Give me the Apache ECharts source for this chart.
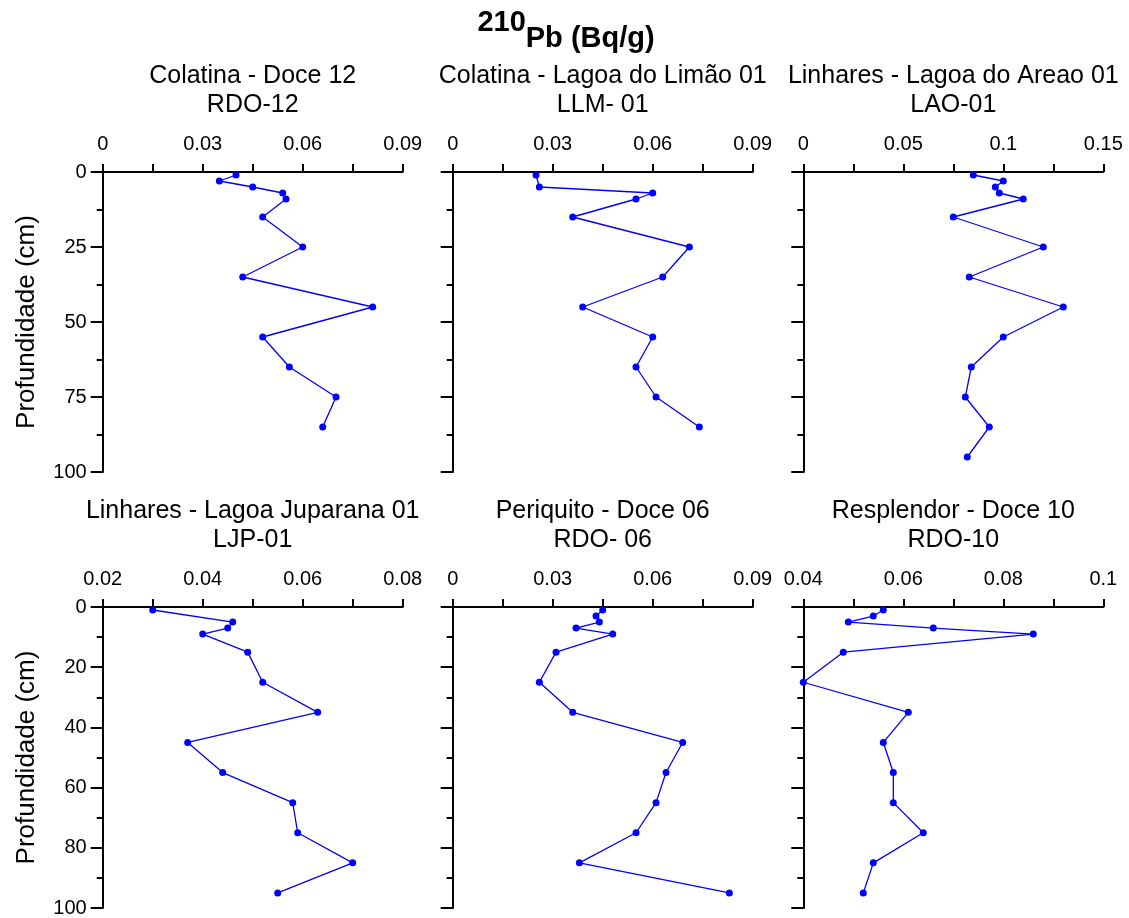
<!DOCTYPE html>
<html>
<head>
<meta charset="utf-8">
<title>210Pb perfis</title>
<script src="https://cdn.jsdelivr.net/npm/echarts@6/dist/echarts.min.js"></script>
<style>
  html, body { margin: 0; padding: 0; background: #fff; }
  #chart { width: 1129px; height: 918px; }
</style>
</head>
<body>
<div id="chart"></div>
<script>
// profundidades (cm)
var depthRDO12 = [1, 3, 5, 7, 9, 15, 25, 35, 45, 55, 65, 75, 85];
var depthLLM01 = [1, 5, 7, 9, 15, 25, 35, 45, 55, 65, 75, 85];
var depthLAO01 = [1, 3, 5, 7, 9, 15, 25, 35, 45, 55, 65, 75, 85, 95];
var depthLJP01 = [1, 5, 7, 9, 15, 25, 35, 45, 55, 65, 75, 85, 95];
var depthRDO06 = [1, 3, 5, 7, 9, 15, 25, 35, 45, 55, 65, 75, 85, 95];
var depthRDO10 = [1, 3, 5, 7, 9, 15, 25, 35, 45, 55, 65, 75, 85, 95];

// 210Pb (Bq/g)
var pbRDO12 = [0.040, 0.035, 0.045, 0.054, 0.055, 0.048, 0.060, 0.042, 0.081, 0.048, 0.056, 0.070, 0.066];
var pbLLM01 = [0.025, 0.026, 0.060, 0.055, 0.036, 0.071, 0.063, 0.039, 0.060, 0.055, 0.061, 0.074];
var pbLAO01 = [0.085, 0.100, 0.096, 0.098, 0.110, 0.075, 0.120, 0.083, 0.130, 0.100, 0.084, 0.081, 0.093, 0.082];
var pbLJP01 = [0.030, 0.046, 0.045, 0.040, 0.049, 0.052, 0.063, 0.037, 0.044, 0.058, 0.059, 0.070, 0.055];
var pbRDO06 = [0.045, 0.043, 0.044, 0.037, 0.048, 0.031, 0.026, 0.036, 0.069, 0.064, 0.061, 0.055, 0.038, 0.083];
var pbRDO10 = [0.056, 0.054, 0.049, 0.066, 0.086, 0.048, 0.040, 0.061, 0.056, 0.058, 0.058, 0.064, 0.054, 0.052];

var titles = [
    'Colatina - Doce 12\nRDO-12',
    'Colatina - Lagoa do Limão 01\nLLM- 01',
    'Linhares - Lagoa do Areao 01\nLAO-01',
    'Linhares - Lagoa Juparana 01\nLJP-01',
    'Periquito - Doce 06\nRDO- 06',
    'Resplendor - Doce 10\nRDO-10'
];
var xMin = [0, 0, 0, 0.02, 0, 0.04];
var xMax = [0.09, 0.09, 0.15, 0.08, 0.09, 0.1];
var xStep = [0.03, 0.03, 0.05, 0.02, 0.03, 0.02];
var yStep = [25, 25, 25, 20, 20, 20];

var depths = [depthRDO12, depthLLM01, depthLAO01, depthLJP01, depthRDO06, depthRDO10];
var values = [pbRDO12, pbLLM01, pbLAO01, pbLJP01, pbRDO06, pbRDO10];

var FONT = '"Liberation Sans", Arial, sans-serif';
var lefts = [102.7, 452.7, 803.3];
var tops = [172, 607];
var heights = [300, 301];

var grid = [], xAxis = [], yAxis = [], series = [], graphic = [];

for (var i = 0; i < 6; i++) {
    var col = i % 3, row = Math.floor(i / 3);
    grid.push({ left: lefts[col], top: tops[row], width: 300, height: heights[row] });

    xAxis.push({
        gridIndex: i, type: 'value', position: 'top',
        min: xMin[i], max: xMax[i], interval: xStep[i],
        axisLine: { show: true, onZero: false, lineStyle: { color: '#000', width: 2 } },
        axisTick: { show: true, length: 8, lineStyle: { color: '#000', width: 2 } },
        minorTick: { show: true, splitNumber: 2, length: 8, lineStyle: { color: '#000', width: 2 } },
        axisLabel: { color: '#000', fontFamily: FONT, fontSize: 20, margin: 18 },
        splitLine: { show: false }
    });

    yAxis.push({
        gridIndex: i, type: 'value', inverse: true,
        min: 0, max: 100, interval: yStep[i],
        name: col === 0 ? 'Profundidade (cm)' : '',
        nameLocation: 'middle', nameGap: 63, nameRotate: 90,
        nameTextStyle: { color: '#000', fontFamily: FONT, fontSize: 26 },
        axisLine: { show: true, onZero: false, lineStyle: { color: '#000', width: 2 } },
        axisTick: { show: true, length: 12, lineStyle: { color: '#000', width: 2 } },
        minorTick: { show: true, splitNumber: 2, length: 6, lineStyle: { color: '#000', width: 2 } },
        axisLabel: { show: col === 0, color: '#000', fontFamily: FONT, fontSize: 20, margin: 16 },
        splitLine: { show: false }
    });

    var pts = [];
    for (var k = 0; k < depths[i].length; k++) pts.push([values[i][k], depths[i][k]]);
    series.push({
        type: 'line', xAxisIndex: i, yAxisIndex: i, data: pts,
        symbol: 'circle', symbolSize: 7,
        itemStyle: { color: '#0000ff' },
        lineStyle: { color: '#0000ff', width: 1.3 },
        animation: false
    });

    graphic.push({
        type: 'text', x: lefts[col] + 150, y: row === 0 ? 90.5 : 526,
        style: {
            text: titles[i], align: 'center', verticalAlign: 'middle',
            fontFamily: FONT, fontSize: 25, lineHeight: 29, fill: '#000'
        }
    });
}

graphic.push({
    type: 'text', x: 566, y: 31,
    style: {
        text: '{s|210}{m|Pb (Bq/g)}', align: 'center', verticalAlign: 'middle',
        fill: '#000',
        rich: {
            s: { fontFamily: FONT, fontSize: 29, fontWeight: 'bold', lineHeight: 29, verticalAlign: 'top', fill: '#000' },
            m: { fontFamily: FONT, fontSize: 29, fontWeight: 'bold', lineHeight: 45, verticalAlign: 'bottom', fill: '#000' }
        }
    }
});

var chart = echarts.init(document.getElementById('chart'));
chart.setOption({
    animation: false,
    backgroundColor: '#fff',
    grid: grid, xAxis: xAxis, yAxis: yAxis, series: series, graphic: graphic
});
</script>
</body>
</html>
